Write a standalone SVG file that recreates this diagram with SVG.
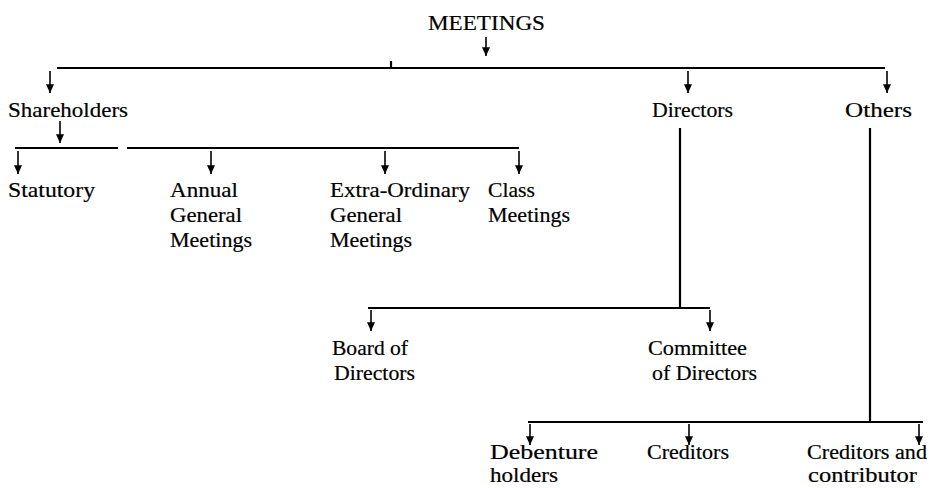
<svg xmlns="http://www.w3.org/2000/svg" width="931" height="488" viewBox="0 0 931 488">
  <defs>
    <marker id="head" markerUnits="userSpaceOnUse" markerWidth="10" markerHeight="10" refX="7" refY="0" viewBox="0 -4 8 8" orient="auto">
      <path d="M0,-3.2 L7,0 L0,3.2 z" fill="#000"/>
    </marker>
    <style>
      .t { font-family: "Liberation Serif", "Times New Roman", serif; font-size: 21px; fill: #000; stroke: #000; stroke-width: 0.2; }
      .s { font-size: 20px; }
      .bar { stroke: #000; stroke-width: 2.2; fill: none; }
      .arr { stroke: #000; stroke-width: 1.6; fill: none; marker-end: url(#head); }
    </style>
  </defs>
  <rect width="931" height="488" fill="#fff"/>

  <g id="connectors">
    <!-- root branch -->
    <line class="arr" x1="486" y1="37" x2="486" y2="56"/>
    <line class="bar" x1="57" y1="68" x2="885" y2="68"/>
    <line class="bar" x1="391" y1="61" x2="391" y2="68"/>
    <line class="arr" x1="50" y1="71" x2="50" y2="93"/>
    <line class="arr" x1="688" y1="71" x2="688" y2="93"/>
    <line class="arr" x1="887" y1="71" x2="887" y2="93"/>

    <!-- shareholders branch -->
    <line class="arr" x1="60" y1="121" x2="60" y2="143"/>
    <line class="bar" x1="15" y1="148" x2="118" y2="148"/>
    <line class="bar" x1="127" y1="148" x2="519" y2="148"/>
    <line class="arr" x1="18" y1="151" x2="18" y2="174"/>
    <line class="arr" x1="211" y1="151" x2="211" y2="174"/>
    <line class="arr" x1="385" y1="151" x2="385" y2="174"/>
    <line class="arr" x1="519" y1="151" x2="519" y2="174"/>

    <!-- directors branch -->
    <line class="bar" x1="680" y1="128" x2="680" y2="308"/>
    <line class="bar" x1="368" y1="308" x2="710" y2="308"/>
    <line class="arr" x1="371" y1="310" x2="371" y2="331"/>
    <line class="arr" x1="710" y1="310" x2="710" y2="331"/>

    <!-- others branch -->
    <line class="bar" x1="870" y1="128" x2="870" y2="422"/>
    <line class="bar" x1="528" y1="422" x2="923" y2="422"/>
    <line class="arr" x1="530" y1="424" x2="530" y2="445"/>
    <line class="arr" x1="689" y1="424" x2="689" y2="445"/>
    <line class="arr" x1="919" y1="424" x2="919" y2="445"/>
  </g>

  <g id="meetings">
    <text class="t" x="428" y="30" textLength="117" lengthAdjust="spacingAndGlyphs">MEETINGS</text>
  </g>
  <g id="shareholders">
    <text class="t" x="8" y="117" textLength="120" lengthAdjust="spacingAndGlyphs">Shareholders</text>
  </g>
  <g id="directors">
    <text class="t" x="652" y="117" textLength="81" lengthAdjust="spacingAndGlyphs">Directors</text>
  </g>
  <g id="others">
    <text class="t" x="845" y="117" textLength="67" lengthAdjust="spacingAndGlyphs">Others</text>
  </g>
  <g id="statutory">
    <text class="t" x="8" y="197" textLength="87" lengthAdjust="spacingAndGlyphs">Statutory</text>
  </g>
  <g id="annual-general">
    <text class="t" x="170" y="197" textLength="68" lengthAdjust="spacingAndGlyphs">Annual</text>
    <text class="t" x="170" y="222" textLength="72" lengthAdjust="spacingAndGlyphs">General</text>
    <text class="t" x="170" y="247" textLength="82" lengthAdjust="spacingAndGlyphs">Meetings</text>
  </g>
  <g id="extra-ordinary">
    <text class="t" x="330" y="197" textLength="140" lengthAdjust="spacingAndGlyphs">Extra-Ordinary</text>
    <text class="t" x="330" y="222" textLength="72" lengthAdjust="spacingAndGlyphs">General</text>
    <text class="t" x="330" y="247" textLength="82" lengthAdjust="spacingAndGlyphs">Meetings</text>
  </g>
  <g id="class-meetings">
    <text class="t" x="488" y="197" textLength="47" lengthAdjust="spacingAndGlyphs">Class</text>
    <text class="t" x="488" y="222" textLength="82" lengthAdjust="spacingAndGlyphs">Meetings</text>
  </g>
  <g id="board">
    <text class="t" x="332" y="355" textLength="76" lengthAdjust="spacingAndGlyphs">Board of</text>
    <text class="t" x="334" y="380" textLength="81" lengthAdjust="spacingAndGlyphs">Directors</text>
  </g>
  <g id="committee">
    <text class="t" x="648" y="355" textLength="99" lengthAdjust="spacingAndGlyphs">Committee</text>
    <text class="t" x="652" y="380" textLength="105" lengthAdjust="spacingAndGlyphs">of Directors</text>
  </g>
  <g id="debenture">
    <text class="t s" x="490" y="459" textLength="108" lengthAdjust="spacingAndGlyphs">Debenture</text>
    <text class="t s" x="490" y="482" textLength="68" lengthAdjust="spacingAndGlyphs">holders</text>
  </g>
  <g id="creditors">
    <text class="t s" x="647" y="459" textLength="82" lengthAdjust="spacingAndGlyphs">Creditors</text>
  </g>
  <g id="creditors-contributor">
    <text class="t s" x="807" y="459" textLength="120" lengthAdjust="spacingAndGlyphs">Creditors and</text>
    <text class="t s" x="808" y="482" textLength="109" lengthAdjust="spacingAndGlyphs">contributor</text>
  </g>
</svg>
